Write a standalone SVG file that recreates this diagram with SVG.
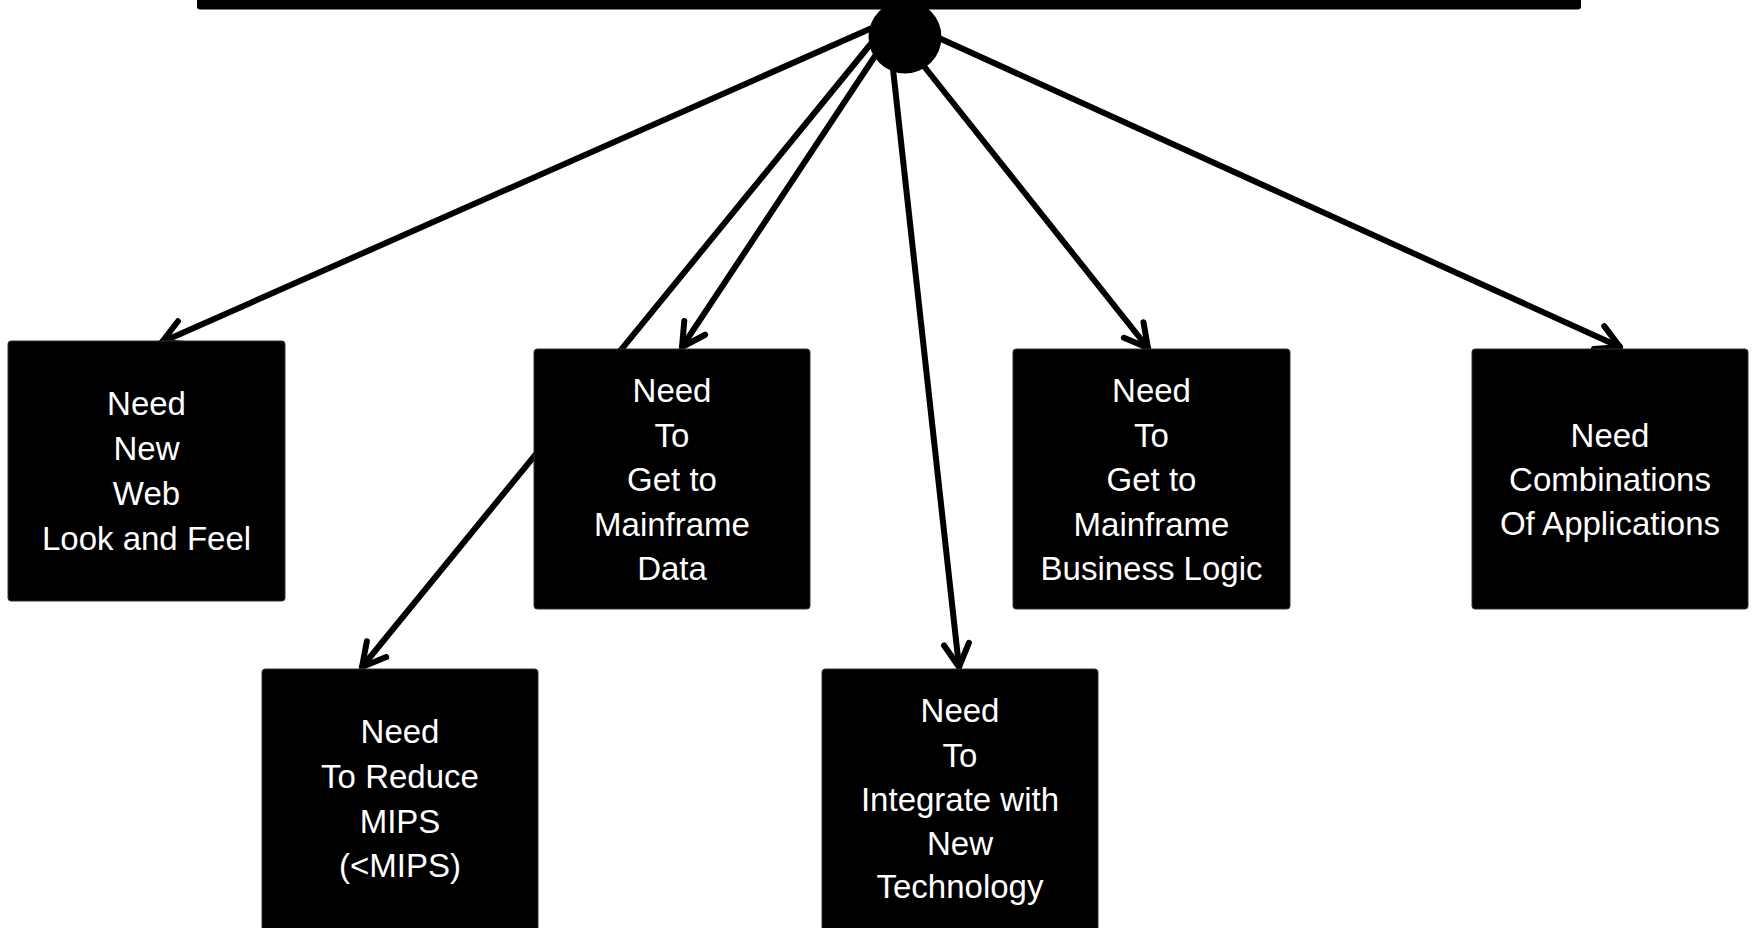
<svg xmlns="http://www.w3.org/2000/svg" width="1754" height="928" viewBox="0 0 1754 928">
  <style>
    .bg { fill: #ffffff; }
    .box { fill: #000000; stroke: #333333; stroke-width: 1; }
    .lbl { fill: #ffffff; font-family: "Liberation Sans", Arial, sans-serif; font-size: 33px; text-anchor: middle; }
    .conn { stroke: #000000; stroke-width: 6; fill: none; stroke-linecap: round; marker-end: url(#arrow); }
  </style>
  <defs>
    <marker id="arrow" markerUnits="userSpaceOnUse" orient="auto" refX="0" refY="0" markerWidth="30" markerHeight="30" overflow="visible">
      <path d="M -23,-12.5 L 0,0 L -23,12.5" fill="none" stroke="#000000" stroke-width="6" stroke-linecap="round" stroke-linejoin="round"/>
    </marker>
  </defs>
  <rect class="bg" x="0" y="0" width="1754" height="928"/>

  <g id="connectors">
    <line class="conn" x1="890" y1="20" x2="162" y2="342"/>
    <line class="conn" x1="879" y1="50" x2="682" y2="347"/>
    <line class="conn" x1="874" y1="40" x2="362" y2="667"/>
    <line class="conn" x1="892" y1="60" x2="959" y2="667"/>
    <line class="conn" x1="919" y1="60" x2="1148" y2="348"/>
    <line class="conn" x1="930" y1="34" x2="1620" y2="347"/>
  </g>

  <g id="topbar">
    <rect x="197" y="-10" width="1384" height="19.5" rx="3" fill="#000000"/>
  </g>
  <g id="hub">
    <circle cx="905" cy="37" r="36.5" fill="#000000"/>
  </g>

  <g id="node-web">
    <rect class="box" x="8" y="341" width="277" height="260" rx="3"/>
    <text class="lbl" x="146.5" y="415">Need</text>
    <text class="lbl" x="146.5" y="460">New</text>
    <text class="lbl" x="146.5" y="505">Web</text>
    <text class="lbl" x="146.5" y="550">Look and Feel</text>
  </g>

  <g id="node-data">
    <rect class="box" x="534" y="349" width="276" height="260" rx="3"/>
    <text class="lbl" x="672" y="402">Need</text>
    <text class="lbl" x="672" y="446.5">To</text>
    <text class="lbl" x="672" y="491">Get to</text>
    <text class="lbl" x="672" y="535.5">Mainframe</text>
    <text class="lbl" x="672" y="580">Data</text>
  </g>

  <g id="node-mips">
    <rect class="box" x="262" y="669" width="276" height="275" rx="3"/>
    <text class="lbl" x="400" y="743">Need</text>
    <text class="lbl" x="400" y="788">To Reduce</text>
    <text class="lbl" x="400" y="833">MIPS</text>
    <text class="lbl" x="400" y="877">(&lt;MIPS)</text>
  </g>

  <g id="node-integrate">
    <rect class="box" x="822" y="669" width="276" height="275" rx="3"/>
    <text class="lbl" x="960" y="722">Need</text>
    <text class="lbl" x="960" y="766.5">To</text>
    <text class="lbl" x="960" y="811">Integrate with</text>
    <text class="lbl" x="960" y="855">New</text>
    <text class="lbl" x="960" y="898">Technology</text>
  </g>

  <g id="node-logic">
    <rect class="box" x="1013" y="349" width="277" height="260" rx="3"/>
    <text class="lbl" x="1151.5" y="402">Need</text>
    <text class="lbl" x="1151.5" y="446.5">To</text>
    <text class="lbl" x="1151.5" y="491">Get to</text>
    <text class="lbl" x="1151.5" y="535.5">Mainframe</text>
    <text class="lbl" x="1151.5" y="580">Business Logic</text>
  </g>

  <g id="node-combinations">
    <rect class="box" x="1472" y="349" width="276" height="260" rx="3"/>
    <text class="lbl" x="1610" y="447">Need</text>
    <text class="lbl" x="1610" y="491">Combinations</text>
    <text class="lbl" x="1610" y="535">Of Applications</text>
  </g>
</svg>
